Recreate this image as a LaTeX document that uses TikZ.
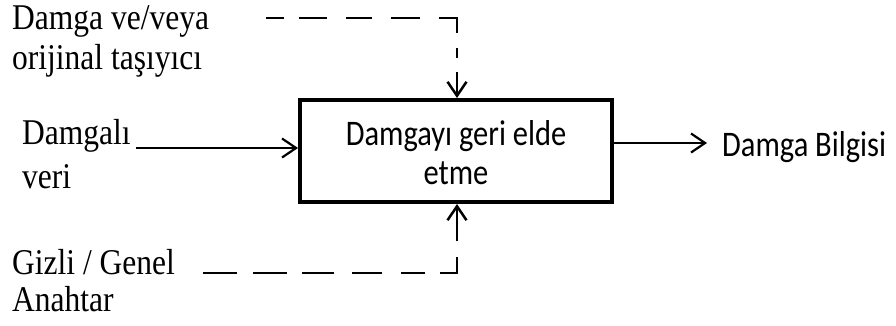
\documentclass[tikz,border=0pt]{standalone}
\usepackage{fontspec}
\setmainfont{Liberation Serif}
\newfontfamily\boxfont{Carlito}
\usetikzlibrary{arrows.meta}

% slightly tall lettering
\newcommand\tallSerif[1]{\scalebox{1}[1.15]{#1}}
\newcommand\tallSans[1]{\scalebox{1}[1.18]{#1}}

\begin{document}
\begin{tikzpicture}[x=1pt,y=-1pt,
  sidetext/.style={inner sep=0pt, anchor=base west, font=\fontsize{31.5}{38}\selectfont},
  calibritext/.style={font=\boxfont\fontsize{30.5}{34}\selectfont},
  block/.style={draw, line width=4pt, minimum width=312pt, minimum height=102pt,
    inner sep=0pt, align=center, font=\boxfont\fontsize{30.5}{39}\selectfont},
  flow/.style={line width=2.2pt, -{Straight Barb[length=14pt,width=19pt]}},
  keyflow/.style={flow, line width=2.5pt, line join=miter},
]
\useasboundingbox (0,0) rectangle (896,325);

% central process block (the strut lowers the two lines a little)
\node[block] (box) at (456,151)
  {\rule{0pt}{28pt}\tallSans{Damgayı geri elde}\\\tallSans{etme}};

% side labels
\node[sidetext] (carrier) at (12,29)
  {\vtop{\baselineskip=40pt\hbox{\tallSerif{Damga ve/veya}}\hbox{\tallSerif{orijinal taşıyıcı}}}};
\node[sidetext] (data) at (22,144)
  {\vtop{\baselineskip=44pt\hbox{\tallSerif{Damgalı}}\hbox{\tallSerif{veri}}}};
\node[sidetext] (key) at (12,274)
  {\vtop{\baselineskip=37pt\hbox{\tallSerif{Gizli / Genel}}\hbox{\tallSerif{Anahtar}}}};
\node[calibritext, inner sep=0pt, anchor=base west] (info) at (722,156) {\tallSans{Damga Bilgisi}};

% free ends of the connectors
\coordinate (dataStart) at (136,148);
\coordinate (infoEnd) at (707,143);
\coordinate (carrierStart) at (266,18);
\coordinate (keyStart) at (203,273);

% solid data flow
\draw[flow] (dataStart) -- (dataStart -| box.west);
\draw[flow] (infoEnd -| box.east) -- (infoEnd);

% dashed optional inputs
\draw[keyflow, dash pattern=on 18pt off 15pt on 28pt off 19pt on 26pt off 19pt on 29pt off 19pt on 33pt off 15pt on 10pt off 14pt on 300pt]
  (carrierStart) -| ([xshift=1pt]box.north);
\draw[keyflow, dash pattern=on 34pt off 16pt on 34pt off 15pt on 32pt off 18pt on 30pt off 19pt on 24pt off 15pt on 33pt off 16pt on 300pt]
  (keyStart) -| ([xshift=1pt]box.south);
\end{tikzpicture}
\end{document}
